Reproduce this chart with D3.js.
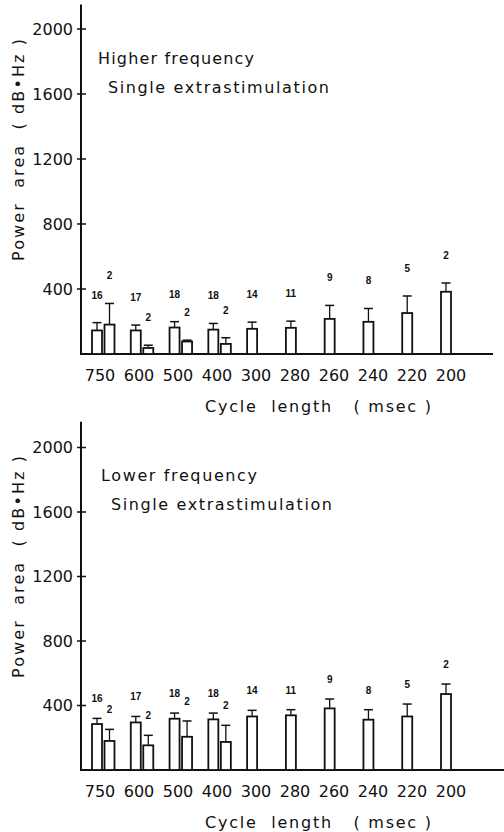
<!DOCTYPE html>
<html>
<head>
<meta charset="utf-8">
<script src="https://cdn.jsdelivr.net/npm/d3@7"></script>
<style>
  body { margin: 0; background: #fff; }
  svg text { font-family: "DejaVu Sans", sans-serif; fill: #111; white-space: pre; }
  .count { font-family: "Liberation Sans", Arial, sans-serif; font-weight: bold; font-size: 10px; }
</style>
</head>
<body>
<div id="chart"></div>
<script>
// cycle lengths (msec), one group per value
const cycleLengths = ["750", "600", "500", "400", "300", "280", "260", "240", "220", "200"];
const yTicks = [400, 800, 1200, 1600, 2000];

// n for the main bar of each group, and n for the extra bar (first four groups only)
const nMain = [16, 17, 18, 18, 14, 11, 9, 8, 5, 2];
const nExtra = [2, 2, 2, 2];

// Higher frequency: mean and mean+SD (top of error bar)
const hiMean = [145, 145, 163, 150, 155, 161, 216, 198, 252, 383];
const hiErr = [193, 178, 199, 188, 196, 202, 299, 280, 357, 437];
const hiExtraMean = [181, 37, 77, 62];
const hiExtraErr = [311, 54, 85, 100];

// Lower frequency
const loMean = [285, 295, 318, 314, 332, 339, 382, 312, 332, 471];
const loErr = [320, 332, 353, 353, 370, 374, 440, 374, 409, 533];
const loExtraMean = [180, 153, 206, 174];
const loExtraErr = [252, 215, 304, 277];

const width = 504, height = 832;
const svg = d3.select("#chart").append("svg")
  .attr("width", width)
  .attr("height", height);

const axisX = 81;
const barW = 10;

// main bar centres and tick label centres
const x = d3.scalePoint().domain(cycleLengths).range([97, 446]);
const xLabel = d3.scalePoint().domain(cycleLengths).range([100, 451]);

function drawPanel(cfg) {
  const y = d3.scaleLinear().domain([0, cfg.yMax]).range([cfg.base, cfg.top]);
  const g = svg.append("g");

  // y axis line + ticks
  g.append("line")
    .attr("x1", axisX).attr("x2", axisX)
    .attr("y1", y(cfg.yMax)).attr("y2", cfg.base)
    .attr("stroke", "#111").attr("stroke-width", 2);

  g.selectAll(".ytick").data(yTicks).enter().append("line")
    .attr("x1", axisX - 4).attr("x2", axisX + 5)
    .attr("y1", d => y(d)).attr("y2", d => y(d))
    .attr("stroke", "#111").attr("stroke-width", 1.5);

  g.selectAll(".ylab").data(yTicks).enter().append("text")
    .attr("x", 73).attr("y", d => y(d))
    .attr("dy", "0.35em")
    .attr("text-anchor", "end")
    .attr("font-size", 16)
    .text(d => d);

  // x axis line
  g.append("line")
    .attr("x1", axisX - 1).attr("x2", cfg.xEnd)
    .attr("y1", cfg.base).attr("y2", cfg.base)
    .attr("stroke", "#111").attr("stroke-width", 2);

  g.selectAll(".xlab").data(cycleLengths).enter().append("text")
    .attr("x", d => xLabel(d)).attr("y", cfg.base + 27)
    .attr("text-anchor", "middle")
    .attr("font-size", 16)
    .text(d => d);

  // bars: main series then extra series shifted right
  const bars = cycleLengths.map((c, i) => ({ c, cx: x(c), mean: cfg.mean[i], err: cfg.err[i], n: nMain[i] }));
  cfg.extraMean.forEach((m, i) => {
    bars.push({ c: cycleLengths[i], cx: x(cycleLengths[i]) + 12.5, mean: m, err: cfg.extraErr[i], n: nExtra[i] });
  });

  const bg = g.selectAll(".bar").data(bars).enter().append("g");

  bg.append("line")
    .attr("x1", d => d.cx).attr("x2", d => d.cx)
    .attr("y1", d => y(d.mean)).attr("y2", d => y(d.err))
    .attr("stroke", "#111").attr("stroke-width", 1.3);

  bg.append("line")
    .attr("x1", d => d.cx - 4.5).attr("x2", d => d.cx + 4.5)
    .attr("y1", d => y(d.err)).attr("y2", d => y(d.err))
    .attr("stroke", "#111").attr("stroke-width", 1.5);

  bg.append("rect")
    .attr("x", d => d.cx - barW / 2)
    .attr("y", d => y(d.mean))
    .attr("width", barW)
    .attr("height", d => cfg.base - y(d.mean))
    .attr("fill", "#fff")
    .attr("stroke", "#111")
    .attr("stroke-width", 1.8);

  bg.append("text")
    .attr("class", "count")
    .attr("x", d => d.cx)
    .attr("y", d => y(d.err) - cfg.countLift)
    .attr("text-anchor", "middle")
    .text(d => d.n);

  // panel titles
  g.append("text")
    .attr("x", cfg.titleX).attr("y", cfg.titleY)
    .attr("font-size", 16)
    .attr("textLength", 156).attr("lengthAdjust", "spacing")
    .text(cfg.title);
  g.append("text")
    .attr("x", cfg.titleX + 10).attr("y", cfg.titleY + 29)
    .attr("font-size", 16)
    .attr("textLength", 221).attr("lengthAdjust", "spacing")
    .text("Single extrastimulation");

  // axis titles
  g.append("text")
    .attr("transform", `translate(24, ${cfg.yTitleC}) rotate(-90)`)
    .attr("text-anchor", "middle")
    .attr("font-size", 16)
    .attr("textLength", 222).attr("lengthAdjust", "spacing")
    .text("Power  area  ( dB•Hz )");

  g.append("text")
    .attr("x", 318).attr("y", cfg.base + 58)
    .attr("text-anchor", "middle")
    .attr("font-size", 16)
    .attr("textLength", 226).attr("lengthAdjust", "spacing")
    .text("Cycle  length   ( msec )");
}

drawPanel({
  title: "Higher frequency",
  mean: hiMean, err: hiErr, extraMean: hiExtraMean, extraErr: hiExtraErr,
  base: 354, top: 4.6, yMax: 2150, xEnd: 493,
  titleX: 98, titleY: 64, yTitleC: 150, countLift: 24
});

drawPanel({
  title: "Lower frequency",
  mean: loMean, err: loErr, extraMean: loExtraMean, extraErr: loExtraErr,
  base: 770, top: 421.7, yMax: 2160, xEnd: 504,
  titleX: 101, titleY: 481, yTitleC: 567, countLift: 16
});
</script>
</body>
</html>
